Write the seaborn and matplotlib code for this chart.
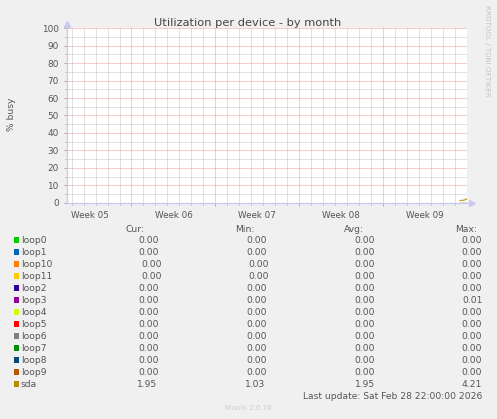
import numpy as np
import pandas as pd
import matplotlib
matplotlib.use('Agg')
import matplotlib.pyplot as plt
import matplotlib.dates as mdates
import matplotlib.ticker as mticker
import matplotlib.transforms as mtransforms
from matplotlib.patches import Rectangle
import seaborn as sns

# munin diskstats utilization, month view
devices = ['loop0', 'loop1', 'loop10', 'loop11', 'loop2', 'loop3', 'loop4',
           'loop5', 'loop6', 'loop7', 'loop8', 'loop9', 'sda']
colors = ['#00CC00', '#0066B3', '#FF8000', '#FFCC00', '#330099', '#990099',
          '#CCFF00', '#FF0000', '#808080', '#008F00', '#00487D', '#B35A00',
          '#B38F00']
cur_vals = [0.00, 0.00, 0.00, 0.00, 0.00, 0.00, 0.00, 0.00, 0.00, 0.00, 0.00, 0.00, 1.95]
min_vals = [0.00, 0.00, 0.00, 0.00, 0.00, 0.00, 0.00, 0.00, 0.00, 0.00, 0.00, 0.00, 1.03]
avg_vals = [0.00, 0.00, 0.00, 0.00, 0.00, 0.00, 0.00, 0.00, 0.00, 0.00, 0.00, 0.00, 1.95]
max_vals = [0.00, 0.00, 0.00, 0.00, 0.00, 0.01, 0.00, 0.00, 0.00, 0.00, 0.00, 0.00, 4.21]

sample_times = pd.date_range('2026-02-28 09:40', '2026-02-28 22:40', freq='130min')
sda_busy = [1.20, 1.40, 1.45, 1.40, 1.45, 2.10, 1.95]
loop_busy = [0.0, 0.0, 0.0, 0.0, 0.0, 0.0, 0.0]

x_start = pd.Timestamp('2026-01-26 14:20')
x_end = pd.Timestamp('2026-02-28 23:50')
week_starts = pd.date_range('2026-01-25', periods=5, freq='7D')

title = 'Utilization per device - by month'
ylabel = '% busy'
last_update = 'Last update: Sat Feb 28 22:00:00 2026'

W, H = 497, 419
BG = '#F0F0F0'
TXT = '#555555'
MGRID = '#EE9A9A'
GRID = '#C4C4C4'

rows = []
for d in devices:
    vals = sda_busy if d == 'sda' else loop_busy
    for t, v in zip(sample_times, vals):
        rows.append((d, t, v))
df = pd.DataFrame(rows, columns=['device', 'time', 'busy'])

fig = plt.figure(figsize=(W / 100, H / 100), dpi=100, facecolor=BG)
ax = fig.add_axes([66.7 / W, 1 - 202.7 / H, (467.2 - 66.7) / W, (202.7 - 28.3) / H])
ax.set_facecolor('white')

sns.lineplot(data=df, x='time', y='busy', hue='device', hue_order=devices,
             palette=dict(zip(devices, colors)), legend=False, ax=ax,
             linewidth=0.75, estimator=None)

ax.set_xlim(x_start, x_end)
ax.set_ylim(0, 100)
ax.set_xlabel('')
ax.set_ylabel('')

# grid: daily / 5% minor, weekly (sunday) / 10% major
ax.xaxis.set_major_locator(mdates.WeekdayLocator(byweekday=mdates.SU))
ax.xaxis.set_minor_locator(mdates.WeekdayLocator(
    byweekday=(mdates.MO, mdates.TU, mdates.WE, mdates.TH, mdates.FR, mdates.SA)))
ax.xaxis.set_major_formatter(mticker.NullFormatter())
ax.yaxis.set_major_locator(mticker.MultipleLocator(10))
ax.yaxis.set_minor_locator(mticker.MultipleLocator(5))
ax.grid(which='minor', color=GRID, linestyle=(0, (1, 1)), linewidth=0.72)
ax.grid(which='major', color=MGRID, linestyle=(0, (1, 1)), linewidth=0.72)
ax.set_axisbelow(True)

ax.tick_params(axis='y', which='major', length=2.2, width=0.72, color='#AAAAAA',
               labelsize=6.4, labelcolor=TXT, pad=3.6)
ax.tick_params(axis='y', which='minor', length=1.4, width=0.72, color='#BBBBBB')
ax.tick_params(axis='x', which='major', length=2.2, width=0.72, color=MGRID)
ax.tick_params(axis='x', which='minor', length=1.4, width=0.72, color='#BBBBBB')

for side in ['top', 'right']:
    ax.spines[side].set_visible(False)
for side in ['left', 'bottom']:
    ax.spines[side].set_color('#C8C8F0')
    ax.spines[side].set_linewidth(0.9)

# axis arrows
ax.plot([0], [1.027], marker='^', markersize=4.2, color='#C8C8F0',
        transform=ax.transAxes, clip_on=False)
ax.plot([1.012], [0], marker='>', markersize=4.2, color='#C8C8F0',
        transform=ax.transAxes, clip_on=False)

# week labels centred on each week
blend = mtransforms.blended_transform_factory(ax.transData, fig.transFigure)
for ws in week_starts:
    mid = ws + pd.Timedelta(hours=84)
    ax.text(mdates.date2num(mid), 1 - 217.6 / H, 'Week ' + mid.strftime('%V'),
            transform=blend, ha='center', va='baseline', fontsize=6.3, color=TXT)

fig.text(247.7 / W, 1 - 25.5 / H, title, ha='center', va='baseline',
         fontsize=8.2, color='#444444')
fig.text(11 / W, 1 - 114 / H, ylabel, rotation=90, ha='center', va='center',
         fontsize=6.6, color=TXT)
fig.text(487.3 / W, 1 - 50.8 / H, 'RRDTOOL / TOBI OETIKER', rotation=-90,
         ha='center', va='center', fontsize=5.1, color='#C4C4C4')

# legend table
headers = [('Cur:', 144.0), ('Min:', 254.7), ('Avg:', 364.0), ('Max:', 476.7)]
for h, xr in headers:
    fig.text(xr / W, 1 - 231.5 / H, h, ha='right', va='baseline', fontsize=6.6, color=TXT)

col_right = [159.3, 266.7, 374.7, 482.3]
nudge = {'loop10': (2.3, 1.7), 'loop11': (2.3, 1.7), 'sda': (-2.6, -1.7)}
for i, d in enumerate(devices):
    base = 243.3 + 12 * i
    fig.patches.append(Rectangle((14 / W, 1 - (base - 0.7) / H), 5.3 / W, 5.3 / H,
                                 transform=fig.transFigure, facecolor=colors[i],
                                 edgecolor='none'))
    fig.text(20.7 / W, 1 - base / H, d, ha='left', va='baseline', fontsize=6.6, color=TXT)
    n1, n2 = nudge.get(d, (0, 0))
    vals = [cur_vals[i], min_vals[i], avg_vals[i], max_vals[i]]
    offs = [n1, n2, 0, 0]
    for v, xr, o in zip(vals, col_right, offs):
        fig.text((xr + o) / W, 1 - base / H, '%.2f' % v, ha='right', va='baseline',
                 fontsize=6.6, color=TXT)

fig.text(482.3 / W, 1 - 399 / H, last_update, ha='right', va='baseline',
         fontsize=6.6, color=TXT)
fig.text(248 / W, 1 - 410 / H, 'Munin 2.0.76', ha='center', va='baseline',
         fontsize=5.1, color='#CCCCCC')

fig.savefig('out.png', dpi=100, facecolor=BG)
